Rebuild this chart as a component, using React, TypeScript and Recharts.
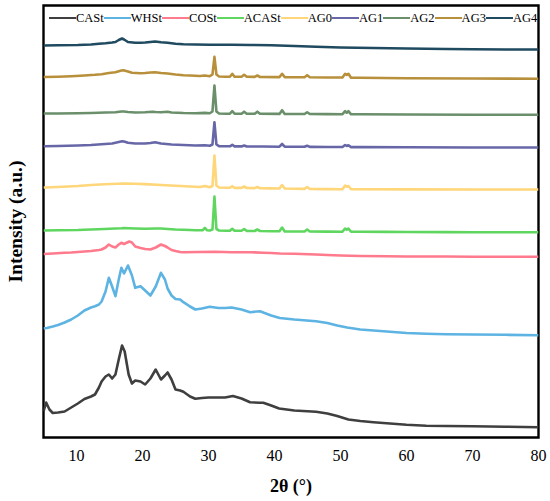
import React from "react";
import { LineChart, Line, XAxis, YAxis, Legend, ReferenceArea } from "recharts";

// 2θ (°) ticks
const xTicks = [10, 20, 30, 40, 50, 60, 70, 80];

// Each pattern: [2θ, intensity (a.u., stacked offset)]
const CASt: [number, number][] = [
  [5.0, 26], [5.4, 35], [5.9, 28], [6.4, 24.5], [7.2, 25], [8.2, 26], [9.2, 30], [10.2, 34], [11.2, 38.5],
  [12.2, 41], [12.8, 43], [13.4, 50], [13.8, 56], [14.4, 61], [14.9, 63], [15.4, 59], [15.9, 63], [16.4, 78],
  [16.9, 92], [17.3, 86], [17.9, 63], [18.4, 54], [18.9, 57], [19.7, 56], [20.4, 53], [21.2, 59], [22.0, 68],
  [22.8, 58], [23.4, 62], [23.8, 65], [24.4, 58], [25.0, 48], [25.7, 47], [26.2, 45.7], [27.2, 41], [28.0, 38.7],
  [29.0, 39.5], [30.0, 40], [31.0, 40], [32.5, 40], [33.7, 41.5], [35.0, 39], [36.3, 35.3], [37.8, 34.7],
  [38.3, 34.8], [39.5, 32], [40.7, 29], [43, 27], [46.3, 25.7], [48, 24], [49.5, 21.5], [51.2, 18], [53, 16.5],
  [55, 15.3], [57, 14.3], [60, 12.7], [63, 11.8], [66, 11.5], [70, 11.3], [75, 10.8], [80, 10.3],
];

const WHSt: [number, number][] = [
  [5.0, 109], [5.5, 109.5], [6.4, 111], [7.2, 112.5], [8.2, 115], [9.2, 118], [10.2, 122], [11.2, 127],
  [12.2, 130], [12.8, 131.3], [13.4, 133], [13.8, 136], [14.4, 146], [14.9, 159.7], [15.4, 151], [15.9, 141.3],
  [16.4, 158], [16.8, 169.7], [17.2, 164], [17.8, 172], [18.4, 162], [18.9, 149.7], [19.7, 151.3], [20.4, 147],
  [21.2, 142], [22.0, 151], [22.8, 164.7], [23.4, 158], [23.8, 149], [24.4, 142], [25.0, 138.5], [25.7, 138],
  [26.2, 135.3], [27.2, 131], [28.0, 128], [29.0, 129], [30.2, 130.7], [31.5, 129.5], [32.5, 129.5], [33.5, 130],
  [35.0, 128], [36.3, 125.3], [37.8, 126.3], [38.4, 124.7], [39.5, 122], [40.8, 119.5], [43, 118], [46.3, 116.3],
  [48, 114.5], [49.5, 112], [51, 110], [53, 108], [55, 107], [57, 106], [60, 104.5], [63, 103.7], [66, 103.3],
  [70, 103], [75, 102.7], [80, 102.3],
];

const COSt: [number, number][] = [
  [5.0, 183.5], [6.4, 184], [8.2, 184.7], [9.2, 185], [10.2, 185.5], [11.2, 186], [12.2, 186.5], [13.4, 187.5],
  [13.8, 188], [14.4, 190], [14.9, 193], [15.4, 191], [15.9, 190], [16.4, 193], [16.8, 194.7], [17.2, 193.5],
  [18.0, 196], [18.4, 195], [18.9, 191], [19.7, 189.5], [20.4, 188.5], [21.2, 188], [22.0, 190], [22.8, 193],
  [23.4, 191.5], [23.8, 190], [24.4, 187.5], [25.0, 186.5], [25.7, 185.5], [26.2, 185.3], [28.5, 185.5],
  [31, 185.7], [33.5, 185.3], [36.3, 185.3], [38.3, 184.8], [39.5, 184.5], [40.8, 184], [43, 183.7], [46.3, 183],
  [48, 182.5], [50, 182], [53, 181.5], [57, 181.2], [60, 181], [66, 181], [70, 180.8], [75, 180.7], [80, 180.7],
];

const ACASt: [number, number][] = [
  [5.0, 207], [7.2, 207.2], [10.2, 207.5], [12.2, 208], [14.2, 208.5], [15.9, 209], [16.8, 209.3], [17.2, 209.5],
  [17.8, 209.3], [18.9, 209], [20.4, 208.8], [22.0, 209], [22.8, 209], [23.8, 208.5], [25.0, 208], [26.2, 207.7],
  [27.2, 207.5], [28.0, 207.3], [29.1, 207.2], [29.45, 209.5], [29.8, 207.2], [30.2, 207], [30.6, 208],
  [30.9, 241], [31.2, 208.5], [31.6, 207], [32.6, 206.7], [33.25, 206.7], [33.6, 208.7], [33.95, 206.7],
  [35.0, 206.7], [35.4, 208.5], [35.8, 206.6], [37.0, 206.5], [37.4, 208], [37.8, 206.5], [39.5, 206.2],
  [40.75, 206.2], [41.15, 210], [41.55, 206.1], [43, 206], [44.55, 206], [44.95, 208], [45.35, 206], [48, 205.9],
  [50.3, 205.8], [50.7, 209], [50.95, 207.7], [51.2, 209], [51.6, 205.7], [53, 205.7], [57, 205.6], [60, 205.5],
  [66, 205.4], [70, 205.3], [80, 205.3],
];

const AG0: [number, number][] = [
  [5.0, 250], [7.2, 250.5], [10.2, 251.5], [12.2, 252.5], [14.2, 253.2], [16.2, 253.8], [17.2, 254], [18.9, 253.8],
  [20.4, 253.4], [22.8, 252.5], [25.0, 251.7], [27.2, 251], [28.7, 250.5], [29.45, 251.5], [30.2, 250.3],
  [30.6, 251.5], [30.9, 282], [31.2, 252], [31.6, 250], [32.6, 249.7], [33.25, 249.7], [33.6, 251.3],
  [33.95, 249.6], [35.0, 249.6], [35.4, 251], [35.8, 249.5], [37.0, 249.4], [37.4, 250.5], [37.8, 249.3],
  [39.5, 249.1], [40.75, 249], [41.15, 252.5], [41.55, 249], [43, 248.7], [44.55, 248.6], [44.95, 250.5],
  [45.35, 248.5], [48, 248.4], [50.3, 248.3], [50.7, 252], [50.95, 250.7], [51.2, 251.5], [51.6, 248.2],
  [53, 248.2], [60, 248.1], [70, 248], [80, 248],
];

const AG1: [number, number][] = [
  [5.0, 291.3], [7.2, 291.5], [10.2, 292], [12.2, 292.5], [13.8, 293.2], [15.4, 294], [16.4, 295.5], [16.9, 296.3],
  [17.2, 296], [17.8, 294.7], [18.9, 294], [20.4, 294], [21.2, 294.5], [21.9, 295.3], [22.8, 294], [24.4, 293],
  [26.2, 292.5], [28.0, 292], [29.45, 292.3], [30.2, 291.8], [30.6, 293], [30.9, 315.3], [31.2, 293],
  [31.6, 291.3], [32.6, 291.2], [33.25, 291.2], [33.6, 292.7], [33.95, 291.1], [35.0, 291.1], [35.4, 292],
  [35.8, 291], [38.3, 291], [40.75, 290.8], [41.15, 293.5], [41.55, 290.8], [43, 290.7], [44.55, 290.7],
  [44.95, 291.7], [45.35, 290.6], [48, 290.5], [50.3, 290.5], [50.7, 292.5], [50.95, 291.5], [51.2, 292.2],
  [51.6, 290.4], [53, 290.4], [60, 290.2], [70, 290], [80, 290],
];

const AG2: [number, number][] = [
  [5.0, 324], [7.2, 324], [10.2, 324.2], [12.2, 324.5], [14.4, 325], [15.9, 325.3], [16.8, 326], [17.2, 326],
  [17.8, 325.5], [18.9, 325], [20.4, 325.2], [21.5, 325.8], [22.0, 325.5], [22.8, 325.2], [23.8, 325.7],
  [24.4, 325], [26.2, 324.5], [28.0, 324.3], [29.45, 324.6], [30.2, 324.2], [30.6, 326], [30.9, 352], [31.2, 326],
  [31.6, 324], [32.6, 323.8], [33.25, 323.8], [33.6, 326.3], [33.95, 323.8], [35.0, 323.8], [35.4, 325.8],
  [35.8, 323.8], [37.0, 323.7], [37.4, 325.8], [37.8, 323.7], [40.75, 323.6], [41.15, 327.3], [41.55, 323.6],
  [43, 323.5], [44.55, 323.5], [44.95, 325.3], [45.35, 323.5], [48, 323.4], [50.3, 323.3], [50.7, 326.3],
  [50.95, 324.8], [51.2, 326.3], [51.6, 323.2], [53, 323.2], [60, 323], [70, 322.8], [80, 322.7],
];

const AG3: [number, number][] = [
  [5.0, 360.5], [7.2, 360.8], [9.2, 361.3], [11.2, 362], [12.8, 362.7], [13.8, 363.3], [14.9, 364.5],
  [15.9, 365.3], [16.8, 367], [17.1, 367.3], [17.8, 366], [18.4, 364.7], [19.7, 364.3], [20.4, 364.5],
  [21.2, 365], [21.9, 365.3], [22.8, 364.5], [23.8, 364], [25.0, 363], [26.2, 362.3], [27.2, 362], [28.7, 361.5],
  [29.45, 362], [30.2, 361.3], [30.6, 363], [30.9, 380.7], [31.2, 363], [31.6, 361], [32.6, 360.8],
  [33.25, 360.8], [33.6, 363.7], [33.95, 360.7], [35.0, 360.7], [35.4, 362.7], [35.8, 360.7], [37.0, 360.6],
  [37.4, 362], [37.8, 360.5], [40.75, 360.4], [41.15, 363.7], [41.55, 360.4], [43, 360.3], [44.55, 360.3],
  [44.95, 362.3], [45.35, 360.2], [48, 360], [50.3, 360], [50.7, 363.7], [50.95, 362.5], [51.2, 363.7],
  [51.6, 359.8], [53, 359.7], [60, 359.3], [70, 359], [80, 358.7],
];

const AG4: [number, number][] = [
  [5.0, 392], [7.2, 392.2], [10.2, 392.5], [12.2, 393], [13.4, 393.8], [14.4, 394.3], [15.4, 395], [15.9, 395.5],
  [16.4, 397.5], [16.9, 399], [17.2, 398], [17.8, 395.5], [18.9, 394.8], [19.7, 394.7], [20.4, 395],
  [21.2, 395.5], [21.9, 396], [22.8, 395.2], [23.8, 394.7], [25.0, 393.7], [26.2, 393.2], [28.0, 393],
  [30.2, 392.8], [33.5, 392.7], [36.3, 392.5], [39.5, 392.3], [43, 391.5], [46.3, 390.7], [50, 390], [55, 389.5],
  [60, 389], [66, 388.5], [70, 388.3], [75, 388], [80, 388],
];

const SERIES_NAMES = ["CASt", "WHSt", "COSt", "ACASt", "AG0", "AG1", "AG2", "AG3", "AG4"];
const SERIES_DATA = [CASt, WHSt, COSt, ACASt, AG0, AG1, AG2, AG3, AG4];
const SERIES_COLORS = ["#3f3f3f", "#5db3e2", "#ff7a8c", "#5fd65f", "#ffd67a", "#6767a8", "#6a8f6a", "#b8903c", "#1f4a60"];

const FONT = "'Liberation Serif', 'Times New Roman', serif";

const LegendContent = (props: any) => {
  const payload = [...(props.payload || [])].sort(
    (a: any, b: any) => SERIES_NAMES.indexOf(a.value) - SERIES_NAMES.indexOf(b.value)
  );
  return (
    <div
      style={{
        display: "flex",
        justifyContent: "space-between",
        alignItems: "center",
        width: "100%",
        fontFamily: FONT,
        fontSize: 12.5,
        color: "#000",
        lineHeight: "14px",
      }}
    >
      {payload.map((p: any) => (
        <div key={p.value} style={{ display: "flex", alignItems: "center" }}>
          <span style={{ display: "inline-block", width: 27, height: 2, background: p.color }} />
          <span>{p.value}</span>
        </div>
      ))}
    </div>
  );
};

const YTitle = (props: any) => {
  const vb = props.viewBox || {};
  const cx = vb.x - 28;
  const cy = vb.y + vb.height / 2;
  return (
    <text
      x={cx}
      y={cy}
      transform={`rotate(-90, ${cx}, ${cy})`}
      textAnchor="middle"
      dominantBaseline="central"
      textLength={122}
      lengthAdjust="spacingAndGlyphs"
      style={{ fontSize: 18, fontWeight: "bold", fontFamily: FONT, fill: "#000" }}
    >
      Intensity (a.u.)
    </text>
  );
};

export default function App() {
  return (
    <div style={{ position: "absolute", left: 0, top: 0, width: 550, height: 501, background: "#fff" }}>
      <LineChart
        width={550}
        height={501}
        margin={{ top: 5.5, right: 11.5, bottom: 33.5, left: 43.5 }}
      >
        <XAxis
          xAxisId="b"
          type="number"
          dataKey="x"
          domain={[5, 80]}
          ticks={xTicks}
          allowDataOverflow
          height={30}
          axisLine={false}
          tickLine={false}
          tickSize={6}
          tickMargin={6}
          tick={{ fontSize: 16, fontFamily: FONT, fill: "#000" }}
          label={{
            value: "2θ (°)",
            position: "bottom",
            offset: 12,
            style: { fontSize: 18, fontWeight: "bold", fontFamily: FONT, fill: "#000" },
          }}
        />
        <YAxis
          yAxisId="l"
          type="number"
          domain={[0, 432]}
          allowDataOverflow
          hide
        />
        <ReferenceArea
          xAxisId="b"
          yAxisId="l"
          x1={5}
          x2={80}
          y1={0}
          y2={432}
          fill="none"
          fillOpacity={0}
          stroke="#000"
          strokeWidth={2.4}
          ifOverflow="visible"
          label={<YTitle />}
        />
        <Legend
          layout="horizontal"
          verticalAlign="middle"
          align="center"
          content={<LegendContent />}
          wrapperStyle={{ position: "absolute", top: 11, left: 49, width: 488, height: 14 }}
        />
        {SERIES_NAMES.map((name, i) => (
          <Line
            key={name}
            xAxisId="b"
            yAxisId="l"
            name={name}
            data={SERIES_DATA[i].map(([x, y]) => ({ x, y }))}
            dataKey="y"
            type="linear"
            stroke={SERIES_COLORS[i]}
            strokeWidth={2.6}
            strokeLinejoin="round"
            dot={false}
            activeDot={false}
            isAnimationActive={false}
          />
        ))}
      </LineChart>
    </div>
  );
}
